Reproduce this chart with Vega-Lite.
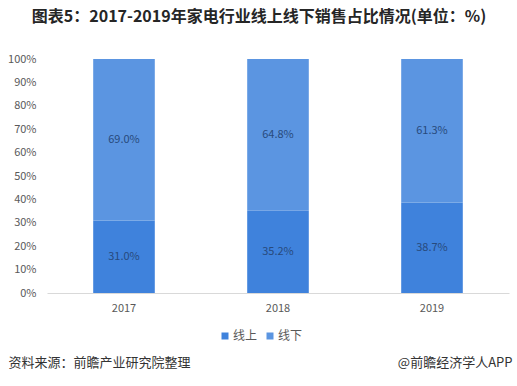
{
  "$schema": "https://vega.github.io/schema/vega-lite/v6.json",
  "autosize": "none",
  "width": 462,
  "height": 234,
  "padding": {"left": 47, "top": 59, "right": 8, "bottom": 93},
  "background": "white",
  "config": {"view": {"stroke": null}, "font": "Noto Sans CJK SC"},
  "title": {
    "text": "图表5：2017-2019年家电行业线上线下销售占比情况(单位：%)",
    "fontSize": 16,
    "fontWeight": "bold",
    "color": "#262626",
    "anchor": "middle",
    "dx": -19,
    "offset": 28
  },
  "data": {
    "values": [
      {"year": "2017", "type": "线上", "value": 0.31},
      {"year": "2017", "type": "线下", "value": 0.69},
      {"year": "2018", "type": "线上", "value": 0.352},
      {"year": "2018", "type": "线下", "value": 0.648},
      {"year": "2019", "type": "线上", "value": 0.387},
      {"year": "2019", "type": "线下", "value": 0.613}
    ]
  },
  "encoding": {
    "x": {
      "field": "year",
      "type": "nominal",
      "scale": {"paddingInner": 0.6, "paddingOuter": 0.3},
      "axis": {
        "labelAngle": 0,
        "labelFontSize": 11,
        "labelColor": "#595959",
        "labelPadding": 9,
        "ticks": false,
        "domainColor": "#d9d9d9",
        "title": "资料来源：前瞻产业研究院整理",
        "titleFontSize": 13,
        "titleFontWeight": "normal",
        "titleColor": "#333333",
        "titleAnchor": "start",
        "titleAlign": "left",
        "titleBaseline": "middle",
        "titleX": -39,
        "titleY": 69
      }
    },
    "order": {"field": "type", "type": "nominal", "sort": "ascending"}
  },
  "layer": [
    {
      "mark": {"type": "bar"},
      "encoding": {
        "y": {
          "field": "value",
          "type": "quantitative",
          "stack": "zero",
          "scale": {"domain": [0, 1], "nice": false},
          "axis": {
            "values": [0, 0.1, 0.2, 0.3, 0.4, 0.5, 0.6, 0.7, 0.8, 0.9, 1],
            "format": ".0%",
            "grid": false,
            "domain": false,
            "ticks": false,
            "labelPadding": 11,
            "labelFontSize": 11,
            "labelColor": "#595959",
            "title": null
          }
        },
        "color": {
          "field": "type",
          "type": "nominal",
          "scale": {"domain": ["线上", "线下"], "range": ["#3f82dc", "#5b95e1"]},
          "legend": {
            "title": null,
            "orient": "none",
            "legendX": 172,
            "legendY": 271,
            "direction": "horizontal",
            "symbolType": "square",
            "symbolSize": 49,
            "symbolStrokeWidth": 0,
            "labelFontSize": 12,
            "labelColor": "#595959",
            "columnPadding": 6,
            "labelOffset": 2
          }
        }
      }
    },
    {
      "mark": {"type": "text", "fontSize": 11, "color": "#284a7c"},
      "encoding": {
        "y": {
          "field": "value",
          "type": "quantitative",
          "stack": "zero",
          "bandPosition": 0.5,
          "axis": {
            "orient": "right",
            "labels": false,
            "ticks": false,
            "domain": false,
            "grid": false,
            "title": "@前瞻经济学人APP",
            "titleAngle": 0,
            "titleFontSize": 13,
            "titleFontWeight": "normal",
            "titleColor": "#333333",
            "titleAlign": "right",
            "titleBaseline": "middle",
            "titleX": 3,
            "titleY": 303
          }
        },
        "detail": {"field": "type", "type": "nominal"},
        "text": {"field": "value", "type": "quantitative", "format": ".1%"}
      }
    }
  ],
  "resolve": {"axis": {"y": "independent"}}
}
